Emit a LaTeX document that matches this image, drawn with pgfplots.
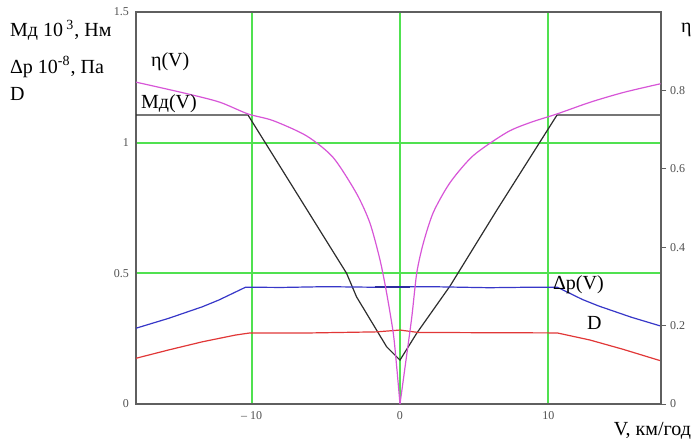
\documentclass[border=0pt]{standalone}
\usepackage{fontspec}
\setmainfont{Liberation Serif}
\usepackage{pgfplots}
\pgfplotsset{compat=1.18}
\usetikzlibrary{calc}

\definecolor{gridgreen}{RGB}{80,225,80}
\definecolor{framegray}{RGB}{95,95,95}
\definecolor{ticktext}{RGB}{80,80,80}
\definecolor{etacol}{RGB}{215,85,215}
\definecolor{mcol}{RGB}{45,45,45}
\definecolor{dpcol}{RGB}{55,55,200}
\definecolor{dcol}{RGB}{225,55,55}

\pgfplotsset{
  mcad/.style={
    scale only axis, width=262.5pt, height=196pt,
    xmin=-17.8, xmax=17.6,
    axis line style={framegray, line width=0.8pt},
    tick label style={font=\fontsize{6}{7}\selectfont, text=ticktext},
  }
}

\begin{document}
\begin{tikzpicture}

% left axis: Md, dp, D
\begin{axis}[mcad,
  ymin=0, ymax=1.5,
  xtick={-10,0,10}, xticklabels={– 10,0,10},
  ytick={0,0.5,1,1.5}, yticklabels={0,0.5,1,1.5},
  xtick pos=bottom, ytick pos=left,
  major tick length=0pt,
  grid=major, grid style={gridgreen, line width=0.9pt},
]
% M_d(V)
\addplot[mcol, line width=0.6pt] coordinates {
(-17.8,1.106)(-10.25,1.106)(-3.6,0.50)(-2.93,0.41)(-0.9,0.219)(0,0.168)
(1.13,0.271)(3.38,0.452)(6.53,0.742)(10.59,1.106)(17.6,1.106)};
% dp(V)
\addplot[dpcol, line width=0.6pt] coordinates {
(-17.8,0.290)(-15.59,0.328)(-13.33,0.372)(-12.21,0.398)(-10.41,0.447)
(-8,0.446)(-5,0.449)(-2,0.447)(2,0.449)(6,0.445)(9,0.447)(10.6,0.447)
(12.3,0.400)(13.4,0.375)(15.6,0.332)(17.6,0.298)};
\addplot[dpcol!80!black, line width=1.2pt] coordinates {(-1.7,0.448)(0.7,0.448)};
% D
\addplot[dcol, line width=0.6pt] coordinates {
(-17.8,0.175)(-15.59,0.207)(-13.33,0.238)(-11.08,0.264)(-10.1,0.272)
(-6,0.272)(-1.6,0.276)(0,0.283)(1.2,0.274)(5,0.273)(10.6,0.272)
(12.8,0.245)(15,0.210)(17.6,0.165)};
\coordinate (ll) at (rel axis cs:0,0);
\coordinate (ur) at (rel axis cs:1,1);
\end{axis}

% right axis: eta
\begin{axis}[mcad,
  ymin=0, ymax=1.0,
  axis x line=none, axis y line*=right,
  ytick={0,0.2,0.4,0.6,0.8}, yticklabels={0,0.2,0.4,0.6,0.8},
  tick align=outside, major tick length=2.5pt,
  ytick style={framegray, line width=0.5pt},
  yticklabel style={xshift=-1.5pt},
]
\addplot[etacol, line width=0.6pt, smooth, tension=0.45] coordinates {
(-17.79,0.821)(-14.41,0.792)(-12.16,0.770)(-10.25,0.740)(-8.56,0.723)
(-6.30,0.684)(-4.51,0.629)(-2.93,0.537)(-2.03,0.462)(-1.35,0.368)
(-0.90,0.283)(-0.45,0.180)(-0.22,0.094)(0,0)};
\addplot[etacol, line width=0.6pt, smooth, tension=0.45] coordinates {
(0,0)(0.34,0.094)(0.79,0.220)(1.13,0.334)(1.57,0.410)(2.25,0.489)(3.38,0.565)
(4.95,0.634)(7.21,0.693)(8.78,0.718)(10.59,0.740)(12.84,0.770)
(15.09,0.795)(17.57,0.817)};
\end{axis}

% labels (offsets from the lower left corner of the plot box, in pt)
\begin{scope}[every node/.style={font=\fontsize{10}{12}\selectfont}]
\node[anchor=west] at ($(ll)+(-66.5pt,187pt)$) {Мд 10\,\textsuperscript{3}, Нм};
\node[anchor=west] at ($(ll)+(-66.5pt,168.5pt)$) {Δp 10\textsuperscript{-8}, Па};
\node[anchor=west] at ($(ll)+(-66.5pt,155pt)$) {D};
\node[anchor=west] at ($(ll)+(4pt,171pt)$) {η(V)};
\node[anchor=west] at ($(ll)+(-1pt,150pt)$) {Мд(V)};
\node[anchor=west] at ($(ll)+(205pt,59.5pt)$) {Δp(V)};
\node[anchor=west] at ($(ll)+(222pt,40.5pt)$) {D};
\node[anchor=west] at ($(ll)+(269pt,187pt)$) {η};
\node[anchor=east] at ($(ll)+(281pt,-13.5pt)$) {V, км/год};
\end{scope}

\pgfresetboundingbox
\path[use as bounding box] ($(ll)+(-68pt,-21pt)$) rectangle ($(ur)+(19.5pt,6pt)$);
\end{tikzpicture}
\end{document}
